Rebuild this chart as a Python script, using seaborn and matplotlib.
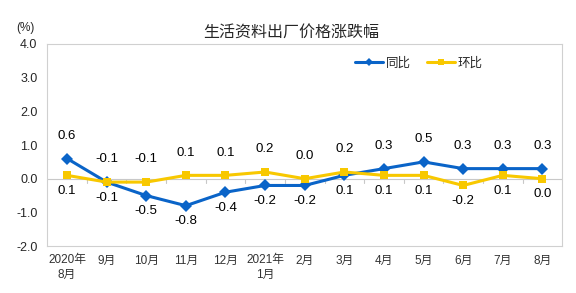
import numpy as np
import pandas as pd
import matplotlib
matplotlib.use("Agg")
import matplotlib.pyplot as plt
import seaborn as sns

# chart data
months = ["2020年\n8月", "9月", "10月", "11月", "12月", "2021年\n1月", "2月",
          "3月", "4月", "5月", "6月", "7月", "8月"]
yoy = [0.6, -0.1, -0.5, -0.8, -0.4, -0.2, -0.2, 0.1, 0.3, 0.5, 0.3, 0.3, 0.3]
mom = [0.1, -0.1, -0.1, 0.1, 0.1, 0.2, 0.0, 0.2, 0.1, 0.1, -0.2, 0.1, 0.0]

sns.set_style("white")
plt.rcParams['font.family'] = ['Liberation Sans', 'Noto Sans CJK SC', 'DejaVu Sans']
plt.rcParams['axes.unicode_minus'] = False

blue = "#0A64C8"
yellow = "#F8C800"

df = pd.DataFrame({
    "idx": list(range(len(months))) * 2,
    "value": yoy + mom,
    "series": ["同比"] * len(yoy) + ["环比"] * len(mom),
})

fig = plt.figure(figsize=(5.76, 2.93), dpi=100)
ax = fig.add_axes([0.082, 0.160, 0.894, 0.690])

sns.lineplot(data=df, x="idx", y="value", hue="series", style="series",
             palette={"同比": blue, "环比": yellow},
             markers={"同比": "D", "环比": "s"}, dashes=False,
             markersize=6, linewidth=2.2, markeredgewidth=0, ax=ax)

# data labels
for i in range(len(months)):
    b_up = yoy[i] > mom[i]
    ax.annotate(f"{yoy[i]:.1f}", (i, yoy[i]), xytext=(0, 12 if b_up else -7),
                textcoords="offset points", ha="center",
                va="bottom" if b_up else "top", fontsize=9.5, color="black")
    ax.annotate(f"{mom[i]:.1f}", (i, mom[i]), xytext=(0, -7 if b_up else 12),
                textcoords="offset points", ha="center",
                va="top" if b_up else "bottom", fontsize=9.5, color="black")

ax.set_xlim(-0.5, len(months) - 0.5)
ax.set_ylim(-2.0, 4.0)
ax.set_yticks(np.arange(-2.0, 4.1, 1.0))
ax.set_yticklabels([f"{v:.1f}" for v in np.arange(-2.0, 4.1, 1.0)], fontsize=9)
ax.set_xticks(range(len(months)))
ax.set_xticklabels(months, fontsize=8.5, color="#333333", linespacing=1.3)
ax.tick_params(axis="x", length=0, pad=6)
ax.tick_params(axis="y", length=3, color="#BBBBBB", pad=4)
ax.set_xlabel("")
ax.set_ylabel("")

# zero axis with category boundary ticks
ax.axhline(0, color="#C8C8C8", linewidth=0.8, zorder=0)
for b in np.arange(0.5, len(months) - 1, 1.0):
    ax.plot([b, b], [0, -0.12], color="#C8C8C8", linewidth=0.8, zorder=0)

for s in ax.spines.values():
    s.set_color("#D0D0D0")
    s.set_linewidth(0.8)

handles, labels = ax.get_legend_handles_labels()
for h in handles:
    h.set_markersize(4)
ax.legend(handles, labels, loc="center", bbox_to_anchor=(0.722, 0.905), ncol=2,
          frameon=False, fontsize=9, handlelength=2.2, columnspacing=1.3,
          handletextpad=0.25)

fig.text(0.505, 0.89, "生活资料出厂价格涨跌幅", ha="center", va="center", fontsize=11.5)
fig.text(0.045, 0.905, "(%)", ha="center", va="center", fontsize=8.5)

fig.savefig("out.png", dpi=100)
